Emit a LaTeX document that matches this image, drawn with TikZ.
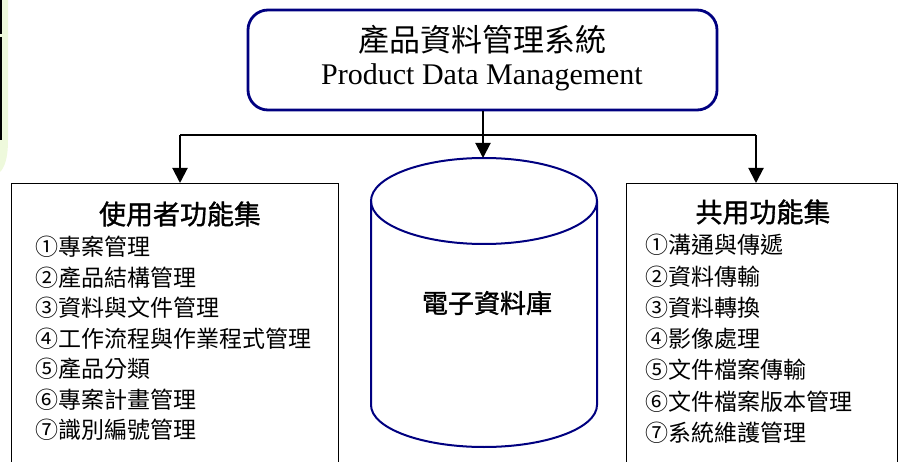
\documentclass[tikz,border=0pt]{standalone}
\usepackage{fontspec}
\setmainfont{Liberation Serif}
\newfontfamily\cjk{Noto Sans CJK TC}
\newfontfamily\cjkhead[FakeBold=1.2]{Noto Sans CJK TC}
\usetikzlibrary{arrows.meta}
\definecolor{navy}{HTML}{000080}
\definecolor{glow}{HTML}{EEF9DC}
\begin{document}
\begin{tikzpicture}[x=1pt,y=-1pt,
  topbox/.style={draw=navy,line width=2.8pt,rounded corners=20pt,minimum width=469pt,minimum height=100pt,inner sep=0pt},
  fnbox/.style={draw=black,line width=1.4pt,inner sep=0pt},
  dbline/.style={draw=navy,line width=2pt},
  conn/.style={draw=black,line width=2pt},
  arr/.style={conn,-{Triangle[width=15pt,length=15pt]}},
  head/.style={font=\cjkhead\fontsize{27}{27}\selectfont,inner sep=0pt},
  item/.style={font=\cjk\fontsize{23}{23}\selectfont,inner sep=0pt,anchor=west},
]
\useasboundingbox (0,0) rectangle (907,462);
\clip (0,0) rectangle (907,462);
% left decoration
\fill[glow] (0,0) -- (8,0) -- (8,140) .. controls (8,160) and (4,168) .. (0,172) -- cycle;
\draw[black,line width=2.5pt] (1.2,0) -- (1.2,34);
\draw[black,line width=2.5pt] (1.2,37) -- (1.2,140);
% top box
\node[topbox] (pdm) at (482.5,60) {};
\node[font=\cjk\fontsize{31}{31}\selectfont,inner sep=0pt] (pdmzh) at (482,40) {產品資料管理系統};
\node[font=\fontsize{30}{30}\selectfont,inner sep=0pt,anchor=base] (pdmen) at (482,85) {Product Data Management};
% side boxes
\node[fnbox,minimum width=327pt,minimum height=300pt,anchor=north west] (user) at (11,183) {};
\node[fnbox,minimum width=271pt,minimum height=300pt,anchor=north west] (common) at (626,183) {};
% database cylinder
\fill[white] (371,201) -- (371,405) arc[start angle=180,end angle=0,x radius=113,y radius=42] -- (597,201) -- cycle;
\draw[dbline] (371,201) -- (371,405) arc[start angle=180,end angle=0,x radius=113,y radius=42] -- (597,201);
\draw[dbline] (484,201) ellipse[x radius=113,y radius=43];
\coordinate (dbtop) at (483,158);
\node[font=\cjkhead\fontsize{26}{26}\selectfont,inner sep=0pt] (db) at (487,303) {電子資料庫};
% connectors
\coordinate (split) at (483,135);
\coordinate (lsplit) at (180,135);
\coordinate (rsplit) at (756,135);
\draw[conn] (lsplit) -- (rsplit);
\draw[arr] (pdm.south -| dbtop) -- (dbtop);
\draw[arr] (lsplit) -- (lsplit |- user.north);
\draw[arr] (rsplit) -- (rsplit |- common.north);
% user functions
\node[head] (uhead) at (180,214) {使用者功能集};
\node[item] (u1) at (35,247) {①專案管理};
\node[item] (u2) at (35,277.5) {②產品結構管理};
\node[item] (u3) at (35,308) {③資料與文件管理};
\node[item] (u4) at (35,338.5) {④工作流程與作業程式管理};
\node[item] (u5) at (35,369) {⑤產品分類};
\node[item] (u6) at (35,399.5) {⑥專案計畫管理};
\node[item] (u7) at (35,430) {⑦識別編號管理};
% common functions
\node[head] (chead) at (763,212) {共用功能集};
\node[item] (c1) at (645,245) {①溝通與傳遞};
\node[item] (c2) at (645,276.3) {②資料傳輸};
\node[item] (c3) at (645,307.6) {③資料轉換};
\node[item] (c4) at (645,339) {④影像處理};
\node[item] (c5) at (645,370.2) {⑤文件檔案傳輸};
\node[item] (c6) at (645,401.5) {⑥文件檔案版本管理};
\node[item] (c7) at (645,433) {⑦系統維護管理};
\end{tikzpicture}
\end{document}
